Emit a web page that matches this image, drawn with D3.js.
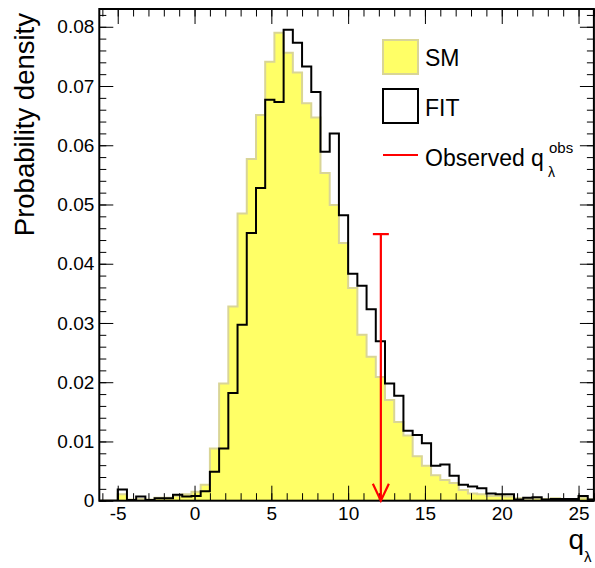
<!DOCTYPE html>
<html>
<head>
<meta charset="utf-8">
<script src="https://cdn.jsdelivr.net/npm/d3@7"></script>
<style>
  body { margin: 0; background: #fff; }
  svg { display: block; font-family: "Liberation Sans", Arial, sans-serif; }
</style>
</head>
<body>
<svg id="chart"></svg>
<script>
// histogram binning: 54 bins of width 0.6 starting at -6.2
var binLow = -6.2;
var binWidth = 0.6;

// SM prediction (yellow, filled)
var smValues = [
  0, 0, 0.0011, 0.0002, 0.0003, 0.0002, 0.0005, 0.0005, 0.0008, 0.0011,
  0.0015, 0.0027, 0.0088, 0.0198, 0.0328, 0.0485, 0.0577, 0.0651, 0.0741, 0.0790,
  0.0756, 0.0723, 0.0671, 0.0647, 0.0553, 0.0499, 0.0435, 0.0359, 0.0280, 0.0243,
  0.0209, 0.0170, 0.0133, 0.0110, 0.0075, 0.0059, 0.0043, 0.0035, 0.0030, 0.0018,
  0.0012, 0.0011, 0.0008, 0.0008, 0.0007, 0.0004, 0.0003, 0.0004, 0.0003, 0.0004,
  0.0003, 0.0003, 0.0005, 0.0002
];

// FIT (black outline)
var fitValues = [
  0, 0, 0.0019, 0.0001, 0.0007, 0.0001, 0.0004, 0.0004, 0.0010, 0.0007,
  0.0008, 0.0016, 0.0049, 0.0088, 0.0182, 0.0297, 0.0452, 0.0528, 0.0677, 0.0673,
  0.0795, 0.0773, 0.0733, 0.0690, 0.0589, 0.0620, 0.0482, 0.0383, 0.0363, 0.0323,
  0.0269, 0.0198, 0.0177, 0.0118, 0.0111, 0.0097, 0.0059, 0.0061, 0.0042, 0.0027,
  0.0024, 0.0021, 0.0012, 0.0011, 0.0011, 0.0002, 0.0005, 0.0006, 0.0002, 0.0003,
  0.0003, 0.0003, 0.0008, 0.0002
];

// observed value and the height of its marker
var qObs = 12.13;
var qObsTop = 0.045;

var xTicks = [-5, 0, 5, 10, 15, 20, 25];
var yTicks = [0, 0.01, 0.02, 0.03, 0.04, 0.05, 0.06, 0.07, 0.08];
var xDomain = [-6.2, 26.0];
var yDomain = [0, 0.083];

var legendItems = ['SM', 'FIT', 'Observed q'];

var width = 595;
var height = 568;
var margin = {top: 9, right: 1.1, bottom: 67.3, left: 99.3};
var w = width - margin.left - margin.right;
var h = height - margin.top - margin.bottom;

var svg = d3.select('#chart')
  .attr('width', width)
  .attr('height', height);

var g = svg.append('g')
  .attr('transform', 'translate(' + margin.left + ',' + margin.top + ')');

var x = d3.scaleLinear().domain(xDomain).range([0, w]);
var y = d3.scaleLinear().domain(yDomain).range([h, 0]);

g.append('clipPath').attr('id', 'plot-clip')
  .append('rect').attr('width', w).attr('height', h);

// build step points (last value repeated at the upper edge)
function steps(values) {
  var pts = values.map(function (v, i) {
    return {x: binLow + i * binWidth, v: v};
  });
  pts.push({x: binLow + values.length * binWidth, v: values[values.length - 1]});
  return pts;
}

var smPts = steps(smValues);
var fitPts = steps(fitValues);

var hist = g.append('g').attr('clip-path', 'url(#plot-clip)');

var area = d3.area()
  .curve(d3.curveStepAfter)
  .x(function (d) { return x(d.x); })
  .y0(y(0))
  .y1(function (d) { return y(d.v); });

var line = d3.line()
  .curve(d3.curveStepAfter)
  .x(function (d) { return x(d.x); })
  .y(function (d) { return y(d.v); });

hist.append('path')
  .datum(smPts)
  .attr('d', area)
  .attr('fill', '#ffff66');

hist.append('path')
  .datum(smPts)
  .attr('d', line)
  .attr('fill', 'none')
  .attr('stroke', '#d9d596')
  .attr('stroke-width', 2);

hist.append('path')
  .datum(fitPts)
  .attr('d', line)
  .attr('fill', 'none')
  .attr('stroke', '#000')
  .attr('stroke-width', 2);

// axes, ROOT style ticks pointing inwards
var xMinor = d3.range(-6, 27, 1);
var yMinor = d3.range(0, 0.0831, 0.002);

function styleAxis(sel) {
  sel.select('.domain').remove();
  sel.selectAll('line').attr('stroke', '#000').attr('stroke-width', 1);
  sel.selectAll('text')
    .attr('font-family', '"Liberation Sans", Arial, sans-serif')
    .attr('font-size', 19)
    .attr('fill', '#000');
}

g.append('g').attr('transform', 'translate(0,' + h + ')')
  .call(d3.axisBottom(x).tickValues(xTicks).tickSize(-15).tickPadding(6)
    .tickFormat(function (d) { return String(d); }))
  .call(styleAxis);
g.append('g').attr('transform', 'translate(0,' + h + ')')
  .call(d3.axisBottom(x).tickValues(xMinor).tickSize(-7.5).tickFormat(''))
  .call(styleAxis);
g.append('g')
  .call(d3.axisTop(x).tickValues(xTicks).tickSize(-15).tickFormat(''))
  .call(styleAxis);
g.append('g')
  .call(d3.axisTop(x).tickValues(xMinor).tickSize(-7.5).tickFormat(''))
  .call(styleAxis);

g.append('g')
  .call(d3.axisLeft(y).tickValues(yTicks).tickSize(-14).tickPadding(5)
    .tickFormat(function (d) { return d === 0 ? '0' : d3.format('.2f')(d); }))
  .call(styleAxis);
g.append('g')
  .call(d3.axisLeft(y).tickValues(yMinor).tickSize(-7).tickFormat(''))
  .call(styleAxis);
g.append('g').attr('transform', 'translate(' + w + ',0)')
  .call(d3.axisRight(y).tickValues(yTicks).tickSize(-14).tickFormat(''))
  .call(styleAxis);
g.append('g').attr('transform', 'translate(' + w + ',0)')
  .call(d3.axisRight(y).tickValues(yMinor).tickSize(-7).tickFormat(''))
  .call(styleAxis);

// frame
g.append('rect')
  .attr('width', w)
  .attr('height', h)
  .attr('fill', 'none')
  .attr('stroke', '#000')
  .attr('stroke-width', 2);

// observed value arrow
var ax = x(qObs);
var arrow = g.append('g')
  .attr('stroke', '#ff0000')
  .attr('stroke-width', 2.2)
  .attr('fill', 'none');
arrow.append('line')
  .attr('x1', ax).attr('x2', ax)
  .attr('y1', y(qObsTop)).attr('y2', y(0));
arrow.append('line')
  .attr('x1', ax - 8).attr('x2', ax + 8)
  .attr('y1', y(qObsTop)).attr('y2', y(qObsTop));
arrow.append('path')
  .attr('d', 'M' + (ax - 8) + ',' + (y(0) - 17) + 'L' + ax + ',' + y(0) + 'L' + (ax + 8) + ',' + (y(0) - 17));

// axis titles
svg.append('text')
  .attr('transform', 'translate(34,13) rotate(-90)')
  .attr('text-anchor', 'end')
  .attr('font-size', 27.5)
  .text('Probability density');

svg.append('text')
  .attr('x', 584).attr('y', 549)
  .attr('text-anchor', 'end')
  .attr('font-size', 28)
  .text('q');
svg.append('text')
  .attr('x', 584).attr('y', 562)
  .attr('font-size', 15)
  .text('λ');

// legend
var legend = svg.append('g');
legend.append('rect')
  .attr('x', 383).attr('y', 40).attr('width', 35).attr('height', 34)
  .attr('fill', '#ffff66').attr('stroke', '#d9d596').attr('stroke-width', 2);
legend.append('rect')
  .attr('x', 383).attr('y', 89).attr('width', 35).attr('height', 34)
  .attr('fill', '#fff').attr('stroke', '#000').attr('stroke-width', 2);
legend.append('line')
  .attr('x1', 383).attr('x2', 418).attr('y1', 155).attr('y2', 155)
  .attr('stroke', '#ff0000').attr('stroke-width', 2.2);

legend.selectAll('text.item')
  .data(legendItems)
  .enter()
  .append('text')
  .attr('class', 'item')
  .attr('x', 425)
  .attr('y', function (d, i) { return [66, 116, 166][i]; })
  .attr('font-size', 23)
  .text(function (d) { return d; });

legend.append('text')
  .attr('x', 549).attr('y', 153)
  .attr('font-size', 15)
  .text('obs');
legend.append('text')
  .attr('x', 548).attr('y', 177)
  .attr('font-size', 14)
  .text('λ');
</script>
</body>
</html>
